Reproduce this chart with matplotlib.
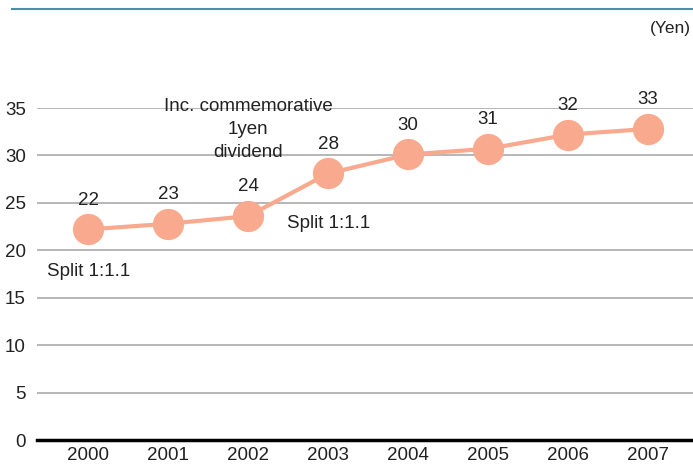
import matplotlib.pyplot as plt
from matplotlib.lines import Line2D

plt.rcParams['font.family'] = ['Liberation Sans', 'DejaVu Sans']

years = ['2000', '2001', '2002', '2003', '2004', '2005', '2006', '2007']
# plotted (adjusted) dividend per share
dividend = [22.2, 22.8, 23.6, 28.1, 30.1, 30.7, 32.2, 32.8]
# printed labels
labels = ['22', '23', '24', '28', '30', '31', '32', '33']
yticks = [0, 5, 10, 15, 20, 25, 30, 35]
note_lines = ['Inc. commemorative', '1yen', 'dividend']

FS = 13.5
TXT = '#222222'

fig = plt.figure(figsize=(6.93, 4.65), dpi=100)
ax = fig.add_axes([37 / 693, 25 / 465, 656 / 693, 332 / 465])

x = list(range(len(years)))
ax.plot(x, dividend, color='#f9aa8e', lw=3, marker='o', ms=21.5,
        mec='#f9aa8e', mfc='#f9aa8e', zorder=3, clip_on=False)

for i, (v, lab) in enumerate(zip(dividend, labels)):
    ax.annotate(lab, (i, v), xytext=(0, 15), textcoords='offset points',
                ha='center', va='bottom', fontsize=FS, color=TXT)

ax.annotate('Split 1:1.1', (0, dividend[0]), xytext=(0, -30),
            textcoords='offset points', ha='center', va='center',
            fontsize=FS, color=TXT)
ax.annotate('Split 1:1.1', (3, dividend[3]), xytext=(0, -36),
            textcoords='offset points', ha='center', va='center',
            fontsize=FS, color=TXT)
# three-line note above 2002, one text per line
for k, line in enumerate(note_lines):
    ax.annotate(line, (2, 35), xytext=(0, 1 - 16.5 * k),
                textcoords='offset points', ha='center', va='center',
                fontsize=FS, color=TXT)

ax.set_xlim(-0.64, 7.56)
ax.set_ylim(0, 35)
ax.set_yticks(yticks)
ax.set_xticks(x)
ax.set_xticklabels(years)
ax.grid(axis='y', color='#aaaaaa', lw=1.2)
ax.set_axisbelow(True)
ax.axhline(0, color='black', lw=2.5, zorder=2, clip_on=False)
for s in ax.spines.values():
    s.set_visible(False)
ax.tick_params(axis='both', length=0, labelsize=FS, colors=TXT)
ax.tick_params(axis='x', pad=5)
ax.tick_params(axis='y', pad=8)

fig.text(691 / 693, 1 - 28 / 465, '(Yen)', ha='right', va='center',
         fontsize=12.5, color=TXT)
fig.add_artist(Line2D([12 / 693, 1], [1 - 9 / 465, 1 - 9 / 465],
                      color='#4b8fa3', lw=1.5))

fig.savefig('out.png', dpi=100)
